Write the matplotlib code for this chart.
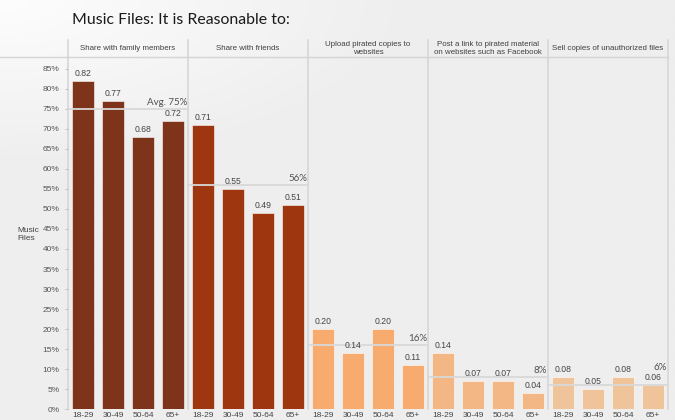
import numpy as np
import matplotlib
matplotlib.use("Agg")
import matplotlib.pyplot as plt
from matplotlib.lines import Line2D
from matplotlib.colors import LinearSegmentedColormap

# data
groups = [
    "Share with family members",
    "Share with friends",
    "Upload pirated copies to\nwebsites",
    "Post a link to pirated material\non websites such as Facebook",
    "Sell copies of unauthorized files",
]
ages = ["18-29", "30-49", "50-64", "65+"]
values = [
    [0.82, 0.77, 0.68, 0.72],
    [0.71, 0.55, 0.49, 0.51],
    [0.20, 0.14, 0.20, 0.11],
    [0.14, 0.07, 0.07, 0.04],
    [0.08, 0.05, 0.08, 0.06],
]
averages = [0.75, 0.56, 0.16, 0.08, 0.06]
avg_labels = ["Avg. 75%", "56%", "16%", "8%", "6%"]
colors = ["#7a2e14", "#9c3008", "#f9a96a", "#f4b482", "#f1c399"]

W, H = 675, 420
fig = plt.figure(figsize=(W / 100, H / 100), dpi=100)

# background gradient, white at top-left fading to light grey
bg = fig.add_axes([0, 0, 1, 1], zorder=-10)
yy, xx = np.mgrid[0:1:200j, 0:1:300j]
grad = np.clip(np.sqrt((xx * 1.6) ** 2 + ((1 - yy) * 2.5) ** 2), 0, 1)
cmap = LinearSegmentedColormap.from_list("bg", ["#fdfdfd", "#eeeeee"])
bg.imshow(grad, cmap=cmap, vmin=0, vmax=1, extent=[0, 1, 0, 1],
          aspect="auto", origin="lower")
bg.axis("off")

left, right = 68 / W, 668 / W
bottom, top = 1 - 409 / H, 1 - 57 / H
ax = fig.add_axes([left, bottom, right - left, top - bottom])
ax.set_facecolor("none")
ymax = 0.88
ax.set_xlim(0, 20)
ax.set_ylim(0, ymax)

label_font = ["Liberation Sans", "DejaVu Sans"]
header_top = ymax + 17 / 400
avg_offsets = [0.004, 0.004, 0.004, 0.004, 0.032]

xticks, xlabels = [], []
for g, (name, vals) in enumerate(zip(groups, values)):
    x0 = g * 4
    xs = x0 + np.arange(4) + 0.5
    ax.bar(xs, vals, width=0.74, color=colors[g], edgecolor="#ffffff",
           linewidth=0.4, alpha=0.97, zorder=2)
    for x, v in zip(xs, vals):
        ax.text(x, v + 0.008, f"{v:.2f}", ha="center", va="bottom",
                fontsize=6.2, color="#444444", family=label_font, zorder=4)
    ax.plot([x0, x0 + 4], [averages[g]] * 2, color="#d8d8d8", lw=1.3, zorder=3)
    ax.text(x0 + 3.97, averages[g] + avg_offsets[g], avg_labels[g], ha="right",
            va="bottom", fontsize=7, color="#505050",
            family=["Lato", "DejaVu Sans"], zorder=4)
    ax.text(x0 + 2, ymax + 8.5 / 400, name, ha="center", va="center",
            fontsize=5.7, color="#404040", family=label_font, linespacing=1.05)
    xticks.extend(xs)
    xlabels.extend(ages)

# panel dividers
for xd in range(0, 21, 4):
    ax.plot([xd, xd], [0, header_top], color="#d4d4d4", lw=1.1,
            clip_on=False, zorder=1)

# header line
fig.add_artist(Line2D([0, right], [top, top], color="#d4d4d4", lw=1.0))

yt = np.arange(0, 0.851, 0.05)
ax.set_yticks(yt)
ax.set_yticklabels([f"{int(round(t * 100))}%" for t in yt])
ax.set_xticks(xticks)
ax.set_xticklabels(xlabels)
ax.tick_params(axis="y", length=2, width=0.6, color="#bbbbbb", pad=4,
               labelsize=6, labelcolor="#555555")
ax.tick_params(axis="x", length=0, pad=2.5, labelsize=6, labelcolor="#444444")
for lab in ax.get_xticklabels() + ax.get_yticklabels():
    lab.set_family(label_font)
for s in ["top", "right", "bottom", "left"]:
    ax.spines[s].set_visible(False)

fig.text(17 / W, 1 - 235 / H, "Music\nFiles", ha="left", va="center",
         fontsize=6, color="#444444", family=label_font)

fig.text(72 / W, 1 - 20 / H, "Music Files: It is Reasonable to:", ha="left",
         va="center", fontsize=11.4, color="#1a1a1a",
         family=["Lato", "DejaVu Sans"])

fig.savefig("out.png", dpi=100)
